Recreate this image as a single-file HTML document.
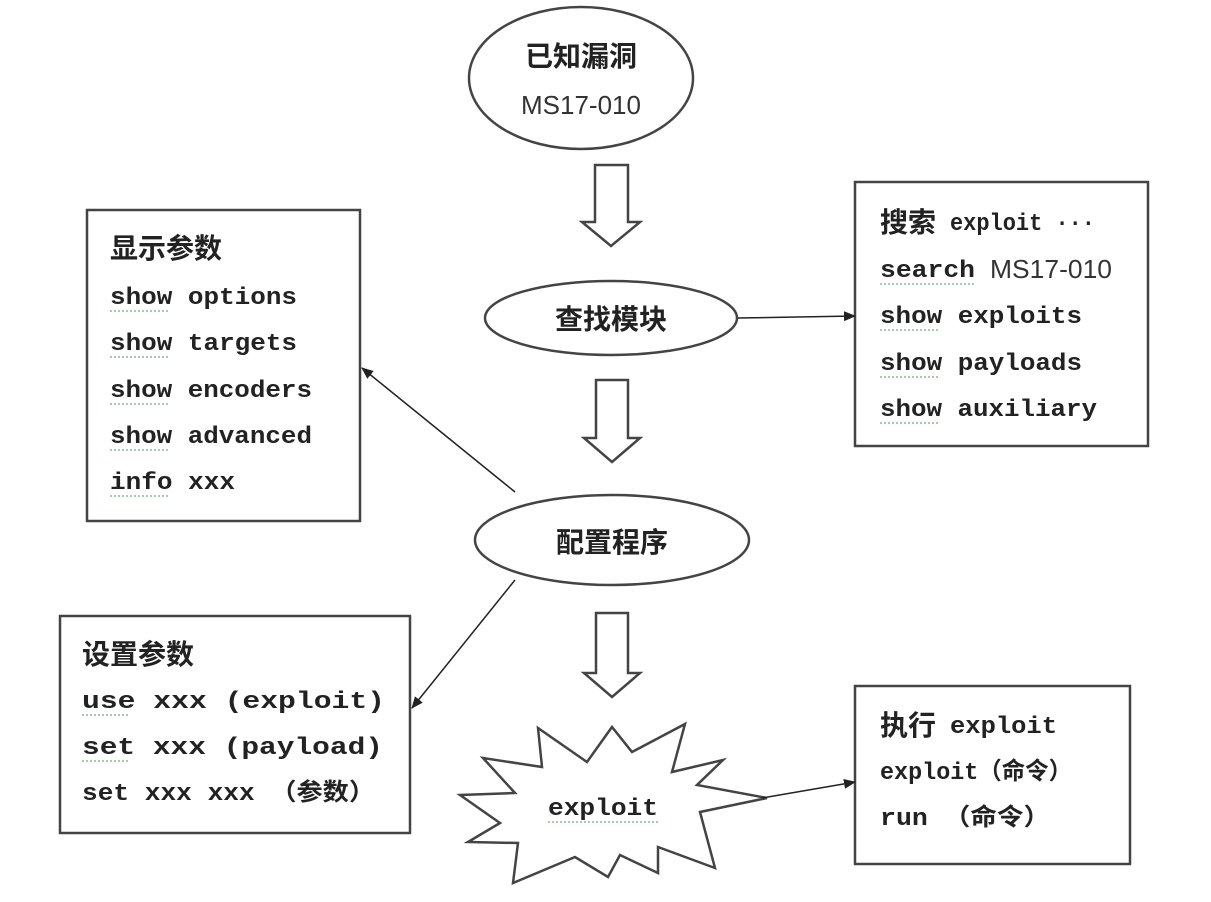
<!DOCTYPE html>
<html><head><meta charset="utf-8"><style>
html,body{margin:0;padding:0;background:#fff;}
svg{display:block;}
.cj{font-family:"Liberation Sans","Noto Sans CJK SC",sans-serif;font-weight:bold;font-size:28px;fill:#222;}
.mo{font-family:"Liberation Mono","Noto Sans CJK SC",monospace;font-weight:bold;font-size:24px;fill:#222;}
.sa{font-family:"Liberation Sans","Noto Sans CJK SC",sans-serif;font-size:26px;fill:#333;}
.sq{stroke:#8b9;stroke-width:1.4;fill:none;stroke-dasharray:2 2;}
</style></head><body>
<svg width="1211" height="902" viewBox="0 0 1211 902" xmlns="http://www.w3.org/2000/svg">
<defs><marker id="ah" markerWidth="12" markerHeight="10" refX="11" refY="5" orient="auto" markerUnits="userSpaceOnUse"><path d="M0,0 L12,5 L0,10 Z" fill="#222"/></marker></defs>
<g fill="#fff" stroke="#444" stroke-width="2.5">
<ellipse cx="581" cy="78" rx="112" ry="71"/>
<ellipse cx="611" cy="318" rx="126" ry="37"/>
<ellipse cx="612" cy="540" rx="137" ry="45"/>
<path d="M595,165 H628 V222 H640 L611,246 L582,222 H595 Z"/>
<path d="M596,380 H628 V438 H640 L612,462 L584,438 H596 Z"/>
<path d="M596,613 H628 V673 H640 L612,697 L584,673 H596 Z"/>
<path d="M538,728 L587,762 L612,727 L632,752 L685,724 L672,772 L723,760 L697,785 L767,798 L700,812 L715,868 L658,847 L658,873 L620,855 L608,877 L575,857 L513,883 L518,843 L468,842 L500,823 L460,795 L515,793 L483,758 L542,767 Z"/>
<rect x="87" y="210" width="273" height="311"/>
<rect x="855" y="182" width="293" height="264"/>
<rect x="60" y="616" width="350" height="217"/>
<rect x="855" y="686" width="275" height="178"/>
</g>
<g stroke="#222" stroke-width="1.5" fill="none">
<line x1="738" y1="318" x2="855" y2="316" marker-end="url(#ah)"/>
<line x1="515" y1="492" x2="362" y2="368" marker-end="url(#ah)"/>
<line x1="515" y1="580" x2="412" y2="708" marker-end="url(#ah)"/>
<line x1="762" y1="798" x2="855" y2="782" marker-end="url(#ah)"/>
</g>
<text class="cj" x="581" y="66" text-anchor="middle" font-size="30">已知漏洞</text>
<text class="sa" x="581" y="114" text-anchor="middle" font-size="31" fill="#222">MS17-010</text>
<text class="cj" x="611" y="329" text-anchor="middle" font-size="29">查找模块</text>
<text class="cj" x="612" y="552" text-anchor="middle" font-size="29">配置程序</text>
<text class="mo" x="548" y="815" textLength="110" lengthAdjust="spacingAndGlyphs">exploit</text>

<text class="cj" x="110" y="258">显示参数</text>
<text class="mo" x="110" y="304" textLength="187" lengthAdjust="spacingAndGlyphs">show options</text>
<text class="mo" x="110" y="350" textLength="187" lengthAdjust="spacingAndGlyphs">show targets</text>
<text class="mo" x="110" y="397" textLength="202" lengthAdjust="spacingAndGlyphs">show encoders</text>
<text class="mo" x="110" y="443" textLength="202" lengthAdjust="spacingAndGlyphs">show advanced</text>
<text class="mo" x="110" y="489" textLength="125" lengthAdjust="spacingAndGlyphs">info xxx</text>

<text class="cj" x="880" y="232">搜索</text>
<text class="mo" x="950" y="230" textLength="145" lengthAdjust="spacingAndGlyphs">exploit ···</text>
<text class="mo" x="880" y="277" textLength="95" lengthAdjust="spacingAndGlyphs">search</text>
<text class="sa" x="990" y="278" font-size="24" textLength="122" lengthAdjust="spacingAndGlyphs">MS17-010</text>
<text class="mo" x="880" y="323" textLength="202" lengthAdjust="spacingAndGlyphs">show exploits</text>
<text class="mo" x="880" y="370" textLength="202" lengthAdjust="spacingAndGlyphs">show payloads</text>
<text class="mo" x="880" y="416" textLength="217" lengthAdjust="spacingAndGlyphs">show auxiliary</text>

<text class="cj" x="82" y="664">设置参数</text>
<text class="mo" x="82" y="708" textLength="303" lengthAdjust="spacingAndGlyphs">use xxx (exploit)</text>
<text class="mo" x="82" y="754" textLength="301" lengthAdjust="spacingAndGlyphs">set xxx (payload)</text>
<text class="mo" x="82" y="800" textLength="293" lengthAdjust="spacingAndGlyphs">set  xxx xxx （参数）</text>

<text class="cj" x="880" y="735">执行</text>
<text class="mo" x="950" y="733" textLength="107" lengthAdjust="spacingAndGlyphs">exploit</text>
<text class="mo" x="880" y="779" textLength="192" lengthAdjust="spacingAndGlyphs">exploit（命令）</text>
<text class="mo" x="880" y="825" textLength="170" lengthAdjust="spacingAndGlyphs">run （命令）</text>

<g class="sq">
<path d="M110,311 H170 M110,357 H170 M110,404 H170 M110,450 H170 M110,496 H170"/>
<path d="M880,284 H975 M880,330 H940 M880,377 H940 M880,423 H940"/>
<path d="M82,715 H130 M82,761 H130 M548,822 H658"/>
</g>
</svg>
</body></html>
